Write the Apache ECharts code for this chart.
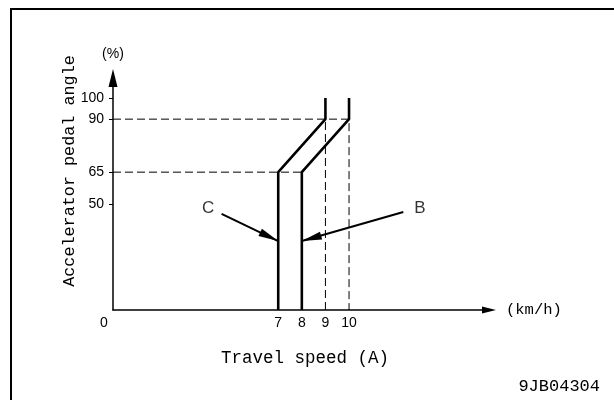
<!DOCTYPE html>
<html>
<head>
<meta charset="utf-8">
<script src="https://cdn.jsdelivr.net/npm/echarts@6/dist/echarts.min.js"></script>
<style>
  html, body { margin: 0; padding: 0; background: #fff; }
  #main { width: 614px; height: 400px; }
</style>
</head>
<body>
<div id="main"></div>
<script>
// tick labels
const xTicks = [0, 7, 8, 9, 10];
const yTicks = [50, 65, 90, 100];

// solid curves (speed km/h, pedal %)
const curveC = [[7, 0], [7, 65], [9, 90], [9, 100]];
const curveB = [[8, 0], [8, 65], [10, 90], [10, 100]];

// dashed guides
const guide90 = [[0, 90], [10, 90], [10, 0]];
const guide65 = [[0, 65], [8, 65]];
const guide9 = [[9, 0], [9, 90]];

// callout arrows and letters
const pointerC = [[4.6, 45.3], [7, 32.5]];
const pointerB = [[12.3, 46.2], [8, 32.5]];
const letters = [
  { name: 'C', value: [4.03, 48.1] },
  { name: 'B', value: [13.0, 48.1] }
];

const chart = echarts.init(document.getElementById('main'), null, { renderer: 'canvas' });

const sans = 'Liberation Sans';
const mono = 'Liberation Mono';
const tri = 'path://M0,0 L5,-20 L10,0 Z';
// square box, tip in the centre so the point lands on the end coordinate
const tipArrow = 'path://M0,0 M40,40 M20,20 L24,40 L16,40 Z';

const option = {
  animation: false,
  backgroundColor: '#fff',
  grid: { left: 113, right: 125, top: 78, bottom: 90 },
  xAxis: {
    type: 'value',
    min: 0,
    max: 15.93,
    name: '(km/h)',
    nameLocation: 'end',
    nameGap: 17,
    nameTextStyle: { fontFamily: mono, fontSize: 15.5, color: '#000', align: 'left', verticalAlign: 'middle' },
    splitLine: { show: false },
    axisTick: { show: false },
    axisLine: {
      lineStyle: { color: '#000', width: 1.5 },
      symbol: ['none', tri],
      symbolSize: [7, 22]
    },
    axisLabel: {
      customValues: xTicks,
      margin: 6,
      color: '#000',
      fontFamily: sans,
      fontSize: 14,
      formatter: function (v) { return v === 0 ? '{o|0}' : String(v); },
      rich: { o: { fontFamily: sans, fontSize: 14, color: '#000', padding: [0, 18, 0, 0] } }
    }
  },
  yAxis: {
    type: 'value',
    min: 0,
    max: 109.4,
    name: '(%)',
    nameLocation: 'end',
    nameGap: 17,
    nameTextStyle: { fontFamily: sans, fontSize: 14, color: '#000', align: 'center' },
    splitLine: { show: false },
    axisLine: {
      show: true,
      lineStyle: { color: '#000', width: 1.5 },
      symbol: ['none', tri],
      symbolSize: [9, 20]
    },
    axisTick: {
      show: true,
      customValues: yTicks,
      length: 4,
      lineStyle: { color: '#000', width: 1 }
    },
    axisLabel: {
      customValues: yTicks,
      margin: 9,
      color: '#000',
      fontFamily: sans,
      fontSize: 14
    }
  },
  graphic: [
    {
      type: 'rect',
      shape: { x: 11, y: 9, width: 640, height: 440 },
      style: { fill: 'none', stroke: '#000', lineWidth: 2 },
      silent: true
    },
    {
      type: 'text',
      x: 70, y: 171,
      rotation: Math.PI / 2,
      style: {
        text: 'Accelerator pedal angle',
        font: '16.8px "Liberation Mono"',
        fill: '#000',
        align: 'center',
        verticalAlign: 'middle'
      }
    },
    {
      type: 'text',
      x: 305, y: 358,
      style: {
        text: 'Travel speed (A)',
        font: '17.5px "Liberation Mono"',
        fill: '#000',
        align: 'center',
        verticalAlign: 'middle'
      }
    },
    {
      type: 'text',
      x: 600, y: 386,
      style: {
        text: '9JB04304',
        font: '17px "Liberation Mono"',
        fill: '#000',
        align: 'right',
        verticalAlign: 'middle'
      }
    }
  ],
  series: [
    { type: 'line', data: curveC, showSymbol: false, lineStyle: { color: '#000', width: 2.6 }, z: 5 },
    { type: 'line', data: curveB, showSymbol: false, lineStyle: { color: '#000', width: 2.6 }, z: 5 },
    { type: 'line', data: guide90, showSymbol: false, lineStyle: { color: '#000', width: 1, type: [8, 4] } },
    { type: 'line', data: guide65, showSymbol: false, lineStyle: { color: '#000', width: 1, type: [8, 4] } },
    { type: 'line', data: guide9, showSymbol: false, lineStyle: { color: '#000', width: 1, type: [8, 4] } },
    {
      type: 'lines',
      coordinateSystem: 'cartesian2d',
      symbol: ['none', tipArrow],
      symbolSize: 40,
      lineStyle: { color: '#000', width: 2, opacity: 1 },
      data: [{ coords: pointerC }, { coords: pointerB }],
      z: 6
    },
    {
      type: 'scatter',
      data: letters,
      symbolSize: 0,
      label: {
        show: true,
        position: 'inside',
        formatter: '{b}',
        fontFamily: sans,
        fontSize: 17,
        color: '#000'
      }
    }
  ]
};

chart.setOption(option);
</script>
</body>
</html>
